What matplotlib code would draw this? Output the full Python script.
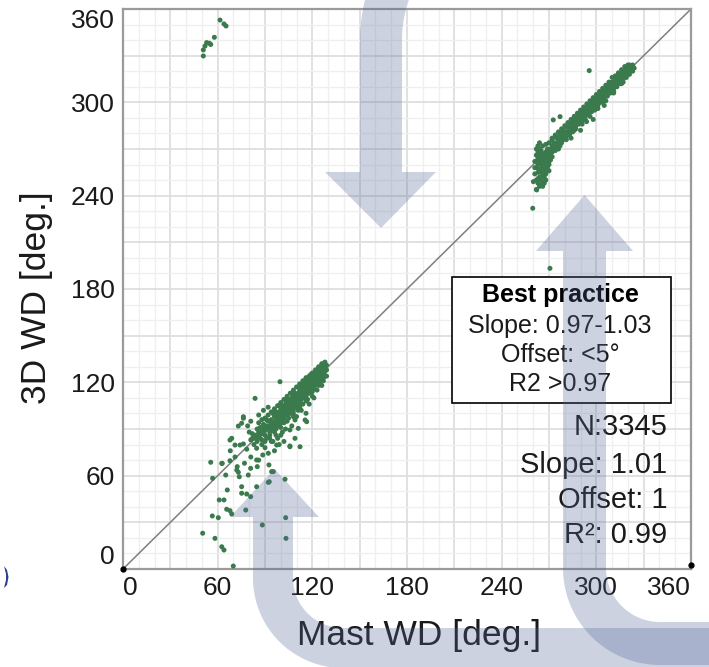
import numpy as np
import matplotlib
matplotlib.use("Agg")
import matplotlib.pyplot as plt
from matplotlib.patches import Polygon, Rectangle

plt.rcParams['font.family'] = ['Liberation Sans', 'DejaVu Sans']

# ---------------------------------------------------------------- data
# wind direction pairs (mast WD, 3D WD) in degrees
lower_core = [
    (84, 86), (85, 82), (85, 90), (86, 85), (86, 88), (87, 84), (87, 91), (88, 87), (88, 83), (89, 90),
    (89, 93), (90, 86), (90, 89), (91, 92), (91, 84), (92, 90), (92, 95), (93, 88), (93, 92), (94, 96),
    (94, 91), (95, 89), (95, 94), (96, 98), (96, 92), (97, 95), (97, 90), (98, 99), (98, 96), (98, 93),
    (99, 101), (99, 97), (100, 94), (100, 99), (100, 103), (101, 98), (101, 96), (102, 104), (102, 100),
    (102, 97), (103, 102), (103, 106), (104, 99), (104, 103), (104, 107), (105, 101), (105, 105),
    (106, 108), (106, 103), (106, 100), (107, 106), (107, 110), (107, 104), (108, 102), (108, 107),
    (108, 111), (109, 105), (109, 109), (109, 112), (110, 107), (110, 104), (110, 111), (111, 113),
    (111, 109), (111, 106), (112, 110), (112, 115), (112, 108), (113, 112), (113, 116), (113, 109),
    (114, 111), (114, 114), (114, 118), (115, 113), (115, 110), (115, 117), (116, 115), (116, 119),
    (116, 112), (117, 114), (117, 118), (117, 121), (118, 116), (118, 120), (118, 113), (119, 118),
    (119, 122), (119, 115), (120, 117), (120, 121), (120, 124), (121, 119), (121, 123), (121, 116),
    (122, 120), (122, 125), (122, 118), (123, 122), (123, 126), (123, 119), (124, 121), (124, 124),
    (124, 127), (125, 123), (125, 126), (125, 129), (126, 124), (126, 128), (126, 121), (127, 126),
    (127, 130), (127, 123), (128, 127), (128, 129), (129, 128), (129, 131), (128, 124), (125, 120),
    (120, 114), (116, 108), (112, 104), (108, 98), (104, 95), (100, 91), (97, 86), (93, 84),
    (119, 125), (115, 121), (111, 117), (107, 113), (103, 109), (99, 105), (95, 100), (91, 96),
    (123, 128), (126, 131),
    (86, 94), (88, 96), (90, 97), (92, 99), (94, 101), (96, 103), (98, 105), (100, 107), (102, 109),
    (104, 111), (106, 113), (108, 115), (110, 117), (112, 119), (114, 121), (116, 123), (118, 124),
    (120, 126), (122, 128), (124, 130), (126, 132), (128, 133), (90, 82), (93, 86), (96, 88),
    (99, 92), (102, 94), (105, 97), (108, 100), (111, 102), (114, 106), (117, 109), (120, 111),
    (123, 115), (126, 118), (129, 124), (127, 121), (97, 101), (101, 105), (105, 109), (109, 113),
    (113, 118), (117, 122), (121, 126), (124, 129), (100, 96), (104, 101), (108, 104), (112, 107),
    (116, 111), (120, 119), (124, 118), (106, 105), (110, 109), (114, 113), (118, 117), (122, 121),
    (126, 126), (102, 101), (98, 97), (94, 93), (90, 91), (87, 88), (84, 84), (82, 87), (83, 80),
    (81, 83),
]
lower_spread = [
    (55.6, 68.6), (62.9, 67.9), (67.8, 69.6), (56.8, 58.3), (65.1, 60.4), (72.4, 65.8), (73.1, 62.2),
    (73.7, 59.3), (79.4, 60.4), (80.9, 64.7), (85.1, 65.8), (92.5, 66.9), (94.2, 62.6), (66.1, 50.8),
    (75.2, 52.9), (75.2, 48.7), (78.4, 48.2), (80.9, 46.5), (84.7, 52.9), (92.1, 55.7), (102.7, 57.7),
    (61.0, 44.4), (64.0, 44.4), (65.7, 38.4), (67.8, 37.5), (68.9, 35.4), (77.8, 37.9), (56.6, 34.1),
    (60.4, 33.0), (88.3, 28.3), (103.1, 33.0), (50.5, 23.0), (58.3, 19.7), (62.6, 14.3), (64.0, 12.2),
    (103.3, 19.7), (69.9, 1.9), (71.0, 79.7), (76.3, 80.4), (78.4, 77.0), (84.7, 77.6), (88.6, 73.3),
    (92.1, 74.4), (97.4, 79.7), (105.8, 79.1), (84.7, 70.1), (95.3, 62.6), (92.7, 56.1), (83.7, 109.7),
    (99.5, 120.4), (112.2, 78.6), (116.4, 94.7), (105.8, 78.6), (76.3, 96.9), (67.8, 82.9),
    (62.6, 67.9), (72.1, 63.6), (109.0, 95.8), (115.4, 95.8), (111.1, 90.4), (105.8, 89.4),
    (101.0, 88.0), (76.3, 97.9), (75.2, 93.7), (73.1, 91.9), (68.9, 84.0), (74.2, 79.7), (109.0, 84.0),
    (116.0, 100.1), (80, 88), (82, 84), (88, 80), (90, 78), (95, 82), (98, 84), (100, 86), (103, 90),
    (107, 92), (110, 98), (113, 102), (118, 106), (121, 110), (79, 92), (81, 95), (86, 99), (89, 102),
    (92, 104), (94, 82), (96, 76), (99, 80), (102, 82), (86, 70), (81, 72), (77, 68), (71, 72), (68, 76),
]
upper_core = [
    (262, 258), (262, 262), (262, 266), (263, 255), (263, 260), (263, 264), (263, 268), (264, 252),
    (264, 257), (264, 262), (264, 266), (265, 250), (265, 255), (265, 260), (265, 264), (265, 269),
    (266, 253), (266, 258), (266, 263), (266, 267), (267, 248), (267, 256), (267, 261), (267, 266),
    (268, 259), (268, 264), (268, 268), (268, 254), (269, 262), (269, 266), (269, 270), (270, 264),
    (270, 268), (270, 260), (271, 266), (271, 270), (272, 268), (272, 272), (272, 265), (273, 270),
    (273, 274), (274, 272), (274, 269), (275, 274), (275, 277), (276, 273), (276, 276), (277, 275),
    (277, 279), (278, 277), (278, 280), (278, 274), (279, 279), (279, 282), (280, 278), (280, 281),
    (281, 280), (281, 284), (282, 281), (282, 284), (283, 283), (283, 280), (284, 286), (284, 283),
    (285, 284), (285, 287), (286, 286), (286, 289), (287, 285), (287, 288), (288, 290), (288, 287),
    (289, 289), (289, 292), (290, 288), (290, 291), (291, 293), (291, 290), (292, 292), (292, 295),
    (293, 294), (293, 291), (294, 296), (294, 293), (295, 295), (295, 298), (296, 297), (296, 294),
    (297, 299), (297, 296), (298, 298), (298, 301), (299, 300), (299, 297), (300, 302), (300, 299),
    (301, 301), (301, 304), (302, 303), (302, 300), (303, 305), (303, 302), (304, 304), (304, 307),
    (305, 306), (305, 303), (306, 308), (306, 305), (307, 307), (307, 310), (308, 309), (308, 306),
    (309, 311), (309, 308), (310, 310), (310, 313), (311, 312), (311, 309), (312, 314), (312, 311),
    (313, 313), (313, 316), (314, 315), (314, 312), (315, 317), (315, 314), (316, 316), (316, 319),
    (317, 318), (317, 315), (318, 320), (318, 317), (319, 319), (319, 322), (320, 321), (320, 318),
    (321, 322), (321, 320), (322, 321), (322, 323), (323, 322), (320, 324), (316, 321), (312, 317),
    (308, 313), (304, 309), (300, 305), (296, 301), (292, 297), (288, 293), (284, 289), (280, 285),
    (276, 281), (272, 277), (316, 312), (311, 306), (306, 301), (301, 296), (296, 291), (291, 286),
    (286, 282), (281, 276), (276, 270), (271, 263), (262, 244), (263, 248), (264, 246), (266, 246),
    (268, 250), (270, 256),
    (262, 270), (263, 272), (264, 274), (261, 262), (261, 258), (261, 254), (262, 250), (263, 251),
    (265, 247), (266, 249), (267, 252), (268, 257), (269, 258), (270, 262), (264, 270), (266, 272),
    (268, 273), (270, 274), (272, 276), (274, 278), (275, 271), (277, 272), (279, 276), (281, 278),
    (283, 279), (285, 281), (287, 283), (289, 286), (291, 288), (293, 289), (295, 292), (297, 294),
    (299, 295), (301, 298), (303, 300), (305, 301), (307, 304), (309, 306), (311, 307), (313, 310),
    (315, 312), (317, 313), (319, 316), (321, 318), (323, 320), (324, 322), (323, 324), (321, 324),
    (318, 323), (314, 319), (310, 316), (306, 311), (302, 307), (298, 303), (294, 299), (290, 295),
    (286, 291), (282, 287), (278, 283), (274, 279), (290, 282), (298, 289), (305, 298), (284, 277),
]
upper_spread = [
    (259.7, 231.9), (270.6, 193.3), (295.5, 320.4), (272.7, 288.7), (277.0, 290.8), (293.8, 287.6),
    (262.2, 243.7), (260.1, 249.0),
]
wrapped = [
    (61.5, 352.9), (64.0, 350.4), (65.3, 349.1), (57.9, 341.8), (54.7, 338.0), (53.0, 338.4),
    (52.0, 336.2), (50.9, 333.7), (50.9, 329.8), (55.6, 337.2),
]

axis_ticks = [0, 60, 120, 180, 240, 300, 360]
best_practice = ["Slope: 0.97-1.03", "Offset: <5°", "R2 >0.97"]
fit_stats = ["N:3345", "Slope: 1.01", "Offset: 1", "R\u00b2: 0.99"]

# ---------------------------------------------------------------- figure
W, H = 709, 667
fig = plt.figure(figsize=(W / 100, H / 100), dpi=100)
ax = fig.add_axes([123 / W, 1 - 569 / H, (691 - 123) / W, (569 - 9) / H])
ax.set_xlim(0, 360)
ax.set_ylim(0, 360)

green = '#3a7a4c'
for cluster in (lower_core, lower_spread, upper_core, upper_spread, wrapped):
    pts = np.array(cluster, dtype=float)
    ax.scatter(pts[:, 0], pts[:, 1], s=13, color=green, edgecolors='none', zorder=3)

# 1:1 reference line
ax.plot([0, 360], [0, 360], color='#7f7f7f', lw=1.1, zorder=2)
ax.plot([0, 360], [0, 2.5], 'o', color='black', ms=3.5, clip_on=False, zorder=4)

# grid: labelled every 60, lines every 30, fine lines every 10
grid_major = np.arange(0, 361, 30)
ax.set_xticks(grid_major)
ax.set_yticks(grid_major)
ax.set_xticklabels([str(v) if v in axis_ticks else '' for v in grid_major])
ax.set_yticklabels([str(v) if v in axis_ticks else '' for v in grid_major])
ax.set_xticks(np.arange(0, 361, 10), minor=True)
ax.set_yticks(np.arange(0, 361, 10), minor=True)
ax.grid(which='major', color='#dedede', lw=1.3, zorder=0)
ax.grid(which='minor', color='#efefef', lw=0.9, zorder=0)
ax.set_axisbelow(True)
ax.tick_params(which='both', length=0)
ax.tick_params(axis='x', labelsize=19, pad=5, colors='#1a1a1a')
ax.tick_params(axis='y', labelsize=19, pad=6, colors='#1a1a1a')
xl = ax.get_xticklabels()
xl[0].set_horizontalalignment('left')
xl[-1].set_horizontalalignment('right')
yl = ax.get_yticklabels()
yl[0].set_verticalalignment('bottom')
yl[-1].set_verticalalignment('top')
for sp in ax.spines.values():
    sp.set_color('#9a9a9a')
    sp.set_linewidth(1.6)

fig.text(419 / W, 1 - 635 / H, 'Mast WD [deg.]', fontsize=25.5, ha='center', va='center',
         color='#1a1a1a')
fig.text(37 / W, 1 - 298 / H, '3D WD [deg.]', fontsize=25.5, ha='center', va='center',
         rotation=90, color='#1a1a1a')

# best-practice box
ax.add_patch(Rectangle((208.5, 106.7), 347.3 - 208.5, 187.7 - 106.7, facecolor='white',
                       edgecolor='black', lw=1.2, zorder=5))
ax.text(277, 176.1, 'Best practice', fontsize=18, fontweight='bold', ha='center', va='center',
        zorder=6)
for txt, yy in zip(best_practice, [156.2, 137.6, 118.9]):
    ax.text(277, yy, txt, fontsize=18, ha='center', va='center', zorder=6, color='#1a1a1a')

# regression statistics
for txt, yy in zip(fit_stats, [91.3, 66.9, 44.4, 21.9]):
    ax.text(344.8, yy, txt, fontsize=21, ha='right', va='center', zorder=6, color='#1a1a1a')


# ---------------------------------------------------------------- overlay arrows
def arc(cx, cy, r, a0, a1, n=40):
    a = np.radians(np.linspace(a0, a1, n))
    return np.column_stack([cx + r * np.cos(a), cy + r * np.sin(a)])


def add_shape(pts_px):
    pts = np.asarray(pts_px, dtype=float)
    xy = np.column_stack([pts[:, 0] / W, 1 - pts[:, 1] / H])
    fig.add_artist(Polygon(xy, closed=True, transform=fig.transFigure,
                           facecolor=(0.33, 0.40, 0.60), alpha=0.29, edgecolor='none', zorder=10))


# downward arrow coming from the top
cx, cy = 522, 40
down = np.vstack([
    arc(cx, cy, 162, 235, 180),
    [[360, 172], [325, 172], [381, 228], [436, 172], [402, 172]],
    arc(cx, cy, 120, 180, 235),
])
add_shape(down)

# upward arrow on the right, turning into the bottom band
cx, cy = 660, 568
up_right = np.vstack([
    [[584.5, 195], [633, 251], [606, 251]],
    arc(cx, cy, 54, 180, 90),
    [[730, 622], [730, 665]],
    arc(cx, cy, 97, 90, 180),
    [[563, 251], [536, 251]],
])
add_shape(up_right)

# upward arrow on the left, turning into the bottom band
cx, cy = 343, 578
up_left = np.vstack([
    [[274.5, 469], [319, 517], [293, 517]],
    arc(cx, cy, 50, 180, 90),
    [[730, 628], [730, 668]],
    arc(cx, cy, 90, 90, 180),
    [[253, 517], [230, 517]],
])
add_shape(up_left)

# fragment of a neighbouring glyph at the left edge
fig.add_artist(Polygon(np.column_stack([np.array([4, 7, 8.5, 7, 4, 6, 6]) / W,
                                        1 - np.array([566, 570, 577, 585, 588, 580, 574]) / H]),
                       closed=True, transform=fig.transFigure, facecolor='#2b3f8c',
                       edgecolor='none', zorder=10))

fig.savefig('out.png', dpi=100)
